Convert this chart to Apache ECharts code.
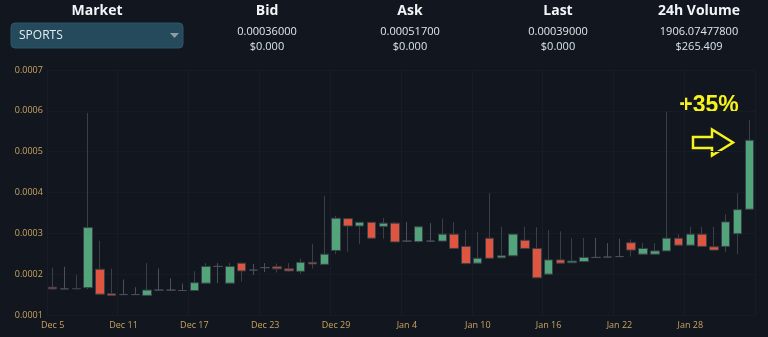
<!DOCTYPE html>
<html>
<head>
<meta charset="utf-8">
<title>SPORTS market</title>
<script src="https://cdn.jsdelivr.net/npm/echarts@6/dist/echarts.min.js"></script>
<style>
  html, body { margin: 0; padding: 0; background: #12161f; }
  #chart { width: 768px; height: 337px; }
</style>
</head>
<body>
<div id="chart"></div>
<script>
// Daily candles, Dec 5 – Feb 2
const dates = [
  'Dec 5','Dec 6','Dec 7','Dec 8','Dec 9','Dec 10','Dec 11','Dec 12','Dec 13','Dec 14',
  'Dec 15','Dec 16','Dec 17','Dec 18','Dec 19','Dec 20','Dec 21','Dec 22','Dec 23','Dec 24',
  'Dec 25','Dec 26','Dec 27','Dec 28','Dec 29','Dec 30','Dec 31','Jan 1','Jan 2','Jan 3',
  'Jan 4','Jan 5','Jan 6','Jan 7','Jan 8','Jan 9','Jan 10','Jan 11','Jan 12','Jan 13',
  'Jan 14','Jan 15','Jan 16','Jan 17','Jan 18','Jan 19','Jan 20','Jan 21','Jan 22','Jan 23',
  'Jan 24','Jan 25','Jan 26','Jan 27','Jan 28','Jan 29','Jan 30','Jan 31','Feb 1','Feb 2'
];
// prices in units of 1e-4
const opens = [
  1.68,1.64,1.64,1.67,2.12,1.52,1.50,1.50,1.48,1.61,
  1.61,1.60,1.60,1.78,2.19,1.78,2.27,2.10,2.16,2.18,
  2.13,2.07,2.29,2.24,2.58,3.36,3.18,3.27,3.17,3.25,
  2.81,2.80,2.81,2.81,2.98,2.68,2.27,2.88,2.40,2.45,
  2.83,2.63,2.00,2.35,2.28,2.31,2.41,2.42,2.43,2.77,
  2.49,2.49,2.57,2.88,2.71,2.98,2.67,2.68,2.99,3.59
];
const closes = [
  1.64,1.64,1.65,3.14,1.51,1.48,1.50,1.50,1.61,1.61,
  1.61,1.60,1.79,2.19,2.19,2.19,2.08,2.10,2.16,2.13,
  2.08,2.29,2.25,2.49,3.37,3.18,3.27,2.88,3.25,2.79,
  2.81,3.16,2.81,2.98,2.63,2.26,2.39,2.39,2.45,2.98,
  2.63,1.91,2.35,2.27,2.32,2.41,2.41,2.42,2.43,2.59,
  2.63,2.57,2.88,2.71,2.98,2.68,2.59,3.28,3.58,5.28
];
const lows = [
  1.62,1.63,1.63,1.63,1.50,1.48,1.49,1.49,1.48,1.60,
  1.60,1.59,1.59,1.78,1.78,1.78,1.82,1.98,2.05,2.04,
  2.06,2.01,2.14,2.24,2.49,2.55,2.74,2.88,2.87,2.79,
  2.80,2.77,2.80,2.80,2.63,2.24,2.27,2.39,2.40,2.45,
  2.63,1.91,1.99,2.27,2.28,2.30,2.40,2.41,2.42,2.43,
  2.49,2.49,2.57,2.71,2.71,2.68,2.58,2.54,2.49,3.59
];
const highs = [
  2.16,2.18,1.98,5.95,2.82,2.14,1.87,1.68,2.27,2.14,
  1.90,1.77,2.07,2.27,2.27,2.28,2.27,2.25,2.27,2.26,
  2.27,2.38,2.74,3.92,3.43,3.36,3.27,3.27,3.38,3.28,
  3.28,3.18,3.25,3.36,3.28,3.08,3.03,3.98,3.16,2.98,
  3.16,3.15,3.08,3.05,2.88,2.89,2.89,2.76,2.87,2.85,
  2.76,2.76,5.98,2.98,3.16,3.16,3.16,3.47,3.98,5.78
];
const yTicks = { min: 0.0001, max: 0.0007, step: 0.0001 };

// Market summary row
const summaryCols = [
  { title: 'Bid',        value: '0.00036000',    usd: '$0.000',   x: 267 },
  { title: 'Ask',        value: '0.00051700',    usd: '$0.000',   x: 410 },
  { title: 'Last',       value: '0.00039000',    usd: '$0.000',   x: 558 },
  { title: '24h Volume', value: '1906.07477800', usd: '$265.409', x: 699 }
];
const marketName = 'SPORTS';
const changeLabel = '+35%';

const E = 1e-4;
const candles = dates.map((d, i) => [opens[i] * E, closes[i] * E, lows[i] * E, highs[i] * E]);

const FONT = '"Open Sans", "Noto Sans", sans-serif';
const GOLD = '#c9a460';
const YELLOW = '#f6f21c';

const graphics = [
  { type: 'text', style: { text: 'Market', x: 97, y: 11, align: 'center', verticalAlign: 'middle',
      fill: '#f2f4f7', font: 'bold 14px ' + FONT } },
  { type: 'rect', shape: { x: 11, y: 23, width: 172, height: 25, r: 4 },
    style: { fill: '#244a5c', stroke: '#2c5568', lineWidth: 1 } },
  { type: 'text', style: { text: marketName, x: 19, y: 36, verticalAlign: 'middle',
      fill: '#e6edf1', font: '12px ' + FONT } },
  { type: 'polygon', shape: { points: [[170, 33], [179, 33], [174.5, 38]] }, style: { fill: '#8d9ea8' } }
];
summaryCols.forEach(c => {
  graphics.push(
    { type: 'text', style: { text: c.title, x: c.x, y: 11, align: 'center', verticalAlign: 'middle',
        fill: '#f2f4f7', font: 'bold 14px ' + FONT } },
    { type: 'text', style: { text: c.value, x: c.x, y: 32, align: 'center', verticalAlign: 'middle',
        fill: '#e3e7ec', font: '11px ' + FONT } },
    { type: 'text', style: { text: c.usd, x: c.x, y: 47, align: 'center', verticalAlign: 'middle',
        fill: '#d6e4ee', font: '11px ' + FONT } }
  );
});
// change callout with outlined arrow
graphics.push(
  { type: 'text', style: { text: changeLabel, x: 709, y: 106, align: 'center', verticalAlign: 'middle',
      fill: YELLOW, font: 'bold 23px "Liberation Sans", Arial, sans-serif' } },
  { type: 'polygon', shape: { points: [[693, 137], [712, 137], [712, 129.5], [733, 142.5], [712, 155.5], [712, 148], [693, 148]] },
    style: { fill: 'none', stroke: YELLOW, lineWidth: 2.5, lineJoin: 'miter' } }
);

const chart = echarts.init(document.getElementById('chart'), null, { renderer: 'canvas' });
chart.setOption({
  backgroundColor: '#12161f',
  animation: false,
  grid: { left: 46.8, right: 12.8, top: 70, bottom: 22 },
  xAxis: {
    type: 'category',
    data: dates,
    boundaryGap: true,
    axisLine: { show: false },
    axisTick: { show: false },
    axisLabel: { interval: 5, color: GOLD, fontSize: 9, fontFamily: FONT, margin: 6 },
    splitLine: { show: true, interval: 5, lineStyle: { color: '#171c26', width: 1 } }
  },
  yAxis: {
    type: 'value',
    min: yTicks.min,
    max: yTicks.max,
    interval: yTicks.step,
    axisLine: { show: false },
    axisTick: { show: false },
    axisLabel: { color: GOLD, fontSize: 9, fontFamily: FONT, align: 'left', margin: 32,
      formatter: v => (+v.toFixed(4)).toString() },
    splitLine: { show: true, lineStyle: { color: '#161b24', width: 1 } }
  },
  series: [{
    type: 'candlestick',
    data: candles,
    barWidth: 9,
    itemStyle: {
      color: '#52a57a',
      color0: '#df553f',
      borderColor: '#3a3f48',
      borderColor0: '#3a3f48',
      borderColorDoji: '#4a4f58',
      borderWidth: 1
    }
  }],
  graphic: graphics
});
</script>
</body>
</html>
